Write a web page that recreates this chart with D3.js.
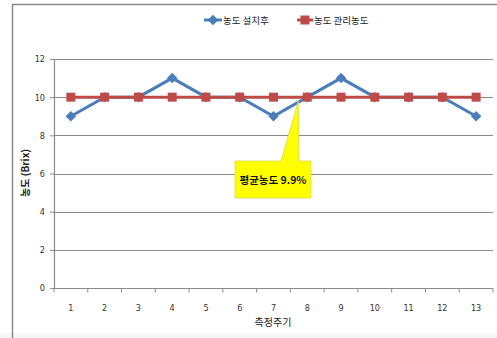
<!DOCTYPE html>
<html><head><meta charset="utf-8">
<script src="https://cdn.jsdelivr.net/npm/d3@7"></script>
<style>
html,body{margin:0;padding:0;background:#fff;}
svg{display:block;font-family:"Noto Sans CJK KR","Noto Sans",sans-serif;}
</style></head>
<body>
<svg id="chart" width="497" height="338"></svg>
<script>
// Measurement periods and concentrations (Brix)
const periods = ["1","2","3","4","5","6","7","8","9","10","11","12","13"];
const afterInstall = [9,10,10,11,10,10,9,10,11,10,10,10,9];
const managedLevel = [10,10,10,10,10,10,10,10,10,10,10,10,10];
const yTicks = [0,2,4,6,8,10,12];
const seriesNames = ["농도 설치후","농도 관리농도"];
const calloutText = "평균농도 9.9%";
const calloutAt = "8";

const svg = d3.select("#chart");
const W = 497, H = 338;
const m = {left:54, right:4, top:59, bottom:50};

// outer frame
svg.append("rect").attr("x",0).attr("y",333).attr("width",W).attr("height",5).attr("fill","#f6f6f6");
svg.append("line").attr("x1",12.5).attr("x2",12.5).attr("y1",4.5).attr("y2",H).attr("stroke","#8c8c8c").attr("stroke-width",1.5);
svg.append("line").attr("x1",12).attr("x2",W).attr("y1",4.5).attr("y2",4.5).attr("stroke","#8c8c8c").attr("stroke-width",1.5);

const x = d3.scaleBand().domain(periods).range([m.left, 493]);
const y = d3.scaleLinear().domain([0,12]).range([288, 59]);
const cx = d => x(d) + x.bandwidth()/2;

// horizontal gridlines
svg.append("g").selectAll("line").data(yTicks.filter(t=>t>0)).join("line")
  .attr("x1",m.left).attr("x2",493)
  .attr("y1",d=>Math.round(y(d))+0.5).attr("y2",d=>Math.round(y(d))+0.5)
  .attr("stroke","#8a8a8a").attr("stroke-width",1.2);

// y axis
const yAxis = svg.append("g").attr("transform",`translate(${m.left},0)`)
  .call(d3.axisLeft(y).tickValues(yTicks).tickSize(4).tickSizeOuter(0).tickPadding(5));
yAxis.select(".domain").attr("stroke","#8a8a8a").attr("stroke-width",1.2);
yAxis.selectAll(".tick line").attr("stroke","#8a8a8a");
yAxis.selectAll("text").attr("font-size",9).attr("fill","#333").attr("font-family","'Liberation Sans Narrow','DejaVu Sans Condensed',sans-serif");

// x axis with ticks at category boundaries
const xg = svg.append("g").attr("transform",`translate(0,${Math.round(y(0))+0.5})`);
xg.append("line").attr("x1",m.left).attr("x2",493).attr("stroke","#8a8a8a").attr("stroke-width",1.2);
const bounds = periods.map(p=>x(p)).concat([493]);
xg.selectAll(".bt").data(bounds).join("line").attr("class","bt")
  .attr("x1",d=>d).attr("x2",d=>d).attr("y1",0).attr("y2",4).attr("stroke","#8a8a8a");
xg.selectAll(".lab").data(periods).join("text").attr("class","lab")
  .attr("x",d=>cx(d)).attr("y",22).attr("text-anchor","middle")
  .attr("font-size",9).attr("fill","#333")
  .attr("font-family","'Liberation Sans Narrow','DejaVu Sans Condensed',sans-serif")
  .text(d=>d);

// axis titles
svg.append("text").attr("x",273).attr("y",326).attr("text-anchor","middle")
  .attr("font-size",10).attr("fill","#222").text("측정주기");
svg.append("text").attr("transform","translate(29,173) rotate(-90)").attr("text-anchor","middle")
  .attr("font-size",10).attr("font-weight","bold").attr("fill","#222").text("농도 (Brix)");

const blue = "#4a7ebb", red = "#be4b48";
const line = d3.line().x((d,i)=>cx(periods[i])).y(d=>y(d));
const diamond = d3.symbol().type(d3.symbolDiamond2).size(70);

// after-install series
svg.append("path").datum(afterInstall).attr("d",line).attr("fill","none")
  .attr("stroke",blue).attr("stroke-width",3);
svg.append("g").selectAll("path").data(afterInstall).join("path")
  .attr("d",diamond).attr("transform",(d,i)=>`translate(${cx(periods[i])},${y(d)})`)
  .attr("fill",blue);

// managed-level series
svg.append("path").datum(managedLevel).attr("d",line).attr("fill","none")
  .attr("stroke",red).attr("stroke-width",3);
svg.append("g").selectAll("rect").data(managedLevel).join("rect")
  .attr("x",(d,i)=>cx(periods[i])-4.5).attr("y",d=>y(d)-4.5)
  .attr("width",9).attr("height",9).attr("fill",red);

// legend
const lg = svg.append("g").attr("font-size",9.5).attr("fill","#222");
lg.append("line").attr("x1",204).attr("x2",222).attr("y1",20).attr("y2",20).attr("stroke",blue).attr("stroke-width",3);
lg.append("path").attr("d",diamond).attr("transform","translate(213,20)").attr("fill",blue);
lg.append("text").attr("x",223).attr("y",24).text(seriesNames[0]);
lg.append("line").attr("x1",297).attr("x2",313).attr("y1",20).attr("y2",20).attr("stroke",red).attr("stroke-width",3);
lg.append("rect").attr("x",300.5).attr("y",15.5).attr("width",9).attr("height",9).attr("fill",red);
lg.append("text").attr("x",314).attr("y",24).text(seriesNames[1]);

// average callout
const tipX = cx(calloutAt) - 9, tipY = y(10) + 4;
const bx0 = 235, bx1 = 311, by0 = 161, by1 = 198;
svg.append("path")
  .attr("d",`M${bx0},${by0} L${281},${by0} L${tipX},${tipY} L${299},${by0} L${bx1},${by0} L${bx1},${by1} L${bx0},${by1} Z`)
  .attr("fill","#ffff00").attr("stroke","#d8d84a").attr("stroke-width",0.8);
svg.append("text").attr("x",273).attr("y",184).attr("text-anchor","middle")
  .attr("font-size",10.5).attr("font-weight","bold").attr("fill","#111").text(calloutText);
</script>
</body></html>
